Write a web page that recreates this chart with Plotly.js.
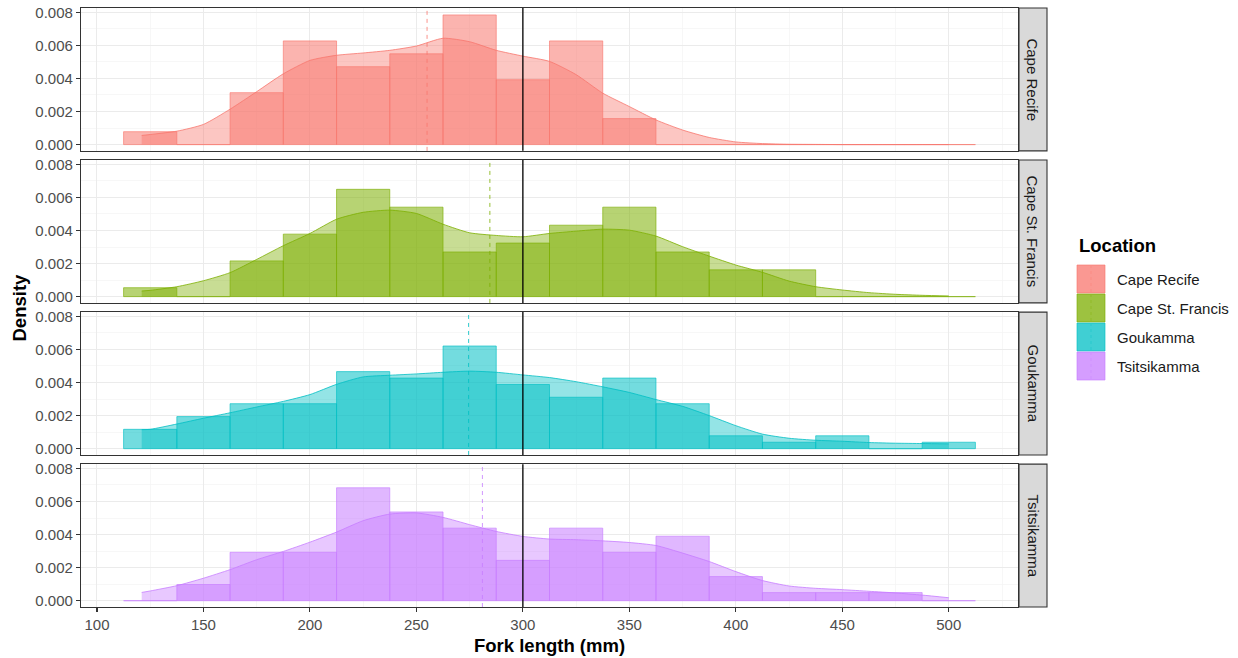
<!DOCTYPE html>
<html>
<head>
<meta charset="utf-8">
<script src="https://cdn.plot.ly/plotly-3.0.1.min.js"></script>
<style>
  html, body { margin: 0; padding: 0; background: #ffffff; }
  #chart { width: 1238px; height: 658px; }
</style>
</head>
<body>
<div id="chart"></div>
<script>
// Fork-length distributions by sampling location: histogram (density scale,
// 25 mm bins) with a kernel density overlay, mean (dashed) and 300 mm reference.
const locations = ['Cape Recife', 'Cape St. Francis', 'Goukamma', 'Tsitsikamma'];
const colours = ['#F8766D', '#7CAE00', '#00BFC4', '#C77CFF'];

// Histogram bin centres (mm)
const binCentres = [125, 150, 175, 200, 225, 250, 275, 300, 325, 350, 375, 400, 425, 450, 475, 500];
const binWidth = 25;

// Histogram densities per location
const histCapeRecife     = [0.00078, 0, 0.00314, 0.00627, 0.00471, 0.00549, 0.00784, 0.00392, 0.00627, 0.00157, 0, 0, 0, 0, 0, 0];
const histCapeStFrancis  = [0.00054, 0, 0.00216, 0.00378, 0.00649, 0.00541, 0.00270, 0.00324, 0.00432, 0.00541, 0.00270, 0.00162, 0.00162, 0, 0, 0];
const histGoukamma       = [0.00117, 0.00194, 0.00272, 0.00272, 0.00466, 0.00427, 0.00621, 0.00388, 0.00311, 0.00427, 0.00272, 0.00078, 0.00039, 0.00078, 0, 0.00039];
const histTsitsikamma    = [0, 0.00098, 0.00293, 0.00293, 0.00683, 0.00537, 0.00439, 0.00244, 0.00439, 0.00293, 0.00390, 0.00146, 0.00049, 0.00049, 0.00049, 0];

// Kernel density estimates
const densityX = [121, 125, 137.5, 150, 162.5, 175, 187.5, 200, 212.5, 225, 237.5, 250, 262.5, 275, 287.5, 300,
                  312.5, 325, 337.5, 350, 362.5, 375, 387.5, 400, 412.5, 425, 437.5, 450, 462.5, 475, 487.5, 500];
const densCapeRecife    = [0.00055, 0.00061, 0.00081, 0.00122, 0.00214, 0.00320, 0.00428, 0.00509, 0.00540, 0.00554, 0.00570, 0.00596, 0.00643, 0.00622, 0.00570, 0.00535,
                           0.00503, 0.00423, 0.00311, 0.00230, 0.00149, 0.00088, 0.00043, 0.00016, 0.00006, 0.00002, 0.00001, 0, 0, 0, 0, 0];
const densCapeStFrancis = [0.00034, 0.00038, 0.00060, 0.00096, 0.00145, 0.00225, 0.00308, 0.00382, 0.00468, 0.00510, 0.00523, 0.00503, 0.00438, 0.00386, 0.00370, 0.00362,
                           0.00382, 0.00396, 0.00408, 0.00402, 0.00366, 0.00302, 0.00245, 0.00191, 0.00147, 0.00094, 0.00060, 0.00040, 0.00024, 0.00014, 0.00008, 0.00004];
const densGoukamma      = [0.00115, 0.00117, 0.00149, 0.00184, 0.00217, 0.00252, 0.00286, 0.00327, 0.00389, 0.00434, 0.00444, 0.00452, 0.00462, 0.00469, 0.00462, 0.00446,
                           0.00430, 0.00405, 0.00374, 0.00340, 0.00297, 0.00256, 0.00200, 0.00139, 0.00088, 0.00063, 0.00051, 0.00045, 0.00037, 0.00033, 0.00031, 0.00029];
const densTsitsikamma   = [0.00050, 0.00059, 0.00091, 0.00136, 0.00188, 0.00248, 0.00298, 0.00354, 0.00415, 0.00484, 0.00524, 0.00531, 0.00504, 0.00460, 0.00419, 0.00389,
                           0.00373, 0.00369, 0.00362, 0.00352, 0.00334, 0.00288, 0.00237, 0.00176, 0.00122, 0.00089, 0.00075, 0.00067, 0.00057, 0.00047, 0.00034, 0.00018];

// Mean fork length per location and the reference length (mm)
const meanLength = [255, 284.5, 274.5, 281];
const referenceLength = 300;

const histByLocation = [histCapeRecife, histCapeStFrancis, histGoukamma, histTsitsikamma];
const densByLocation = [densCapeRecife, densCapeStFrancis, densGoukamma, densTsitsikamma];

// ---- geometry helpers (page pixels -> paper fractions) ----
const W = 1238, H = 658;
const M = { l: 81, r: 220, t: 8, b: 51 };
const plotW = W - M.l - M.r, plotH = H - M.t - M.b;
const px = x => (x - M.l) / plotW;
const py = y => (H - M.b - y) / plotH;

const panelH = 0.2385, panelGap = (1 - 4 * panelH) / 3;
const domains = [0, 1, 2, 3].map(i => {
  const top = 1 - i * (panelH + panelGap);
  return [top - panelH, top];
});

function rgba(hex, a) {
  const n = parseInt(hex.slice(1), 16);
  return `rgba(${(n >> 16) & 255},${(n >> 8) & 255},${n & 255},${a})`;
}

const FONT = 'Liberation Sans, Arial, Helvetica, sans-serif';
const traces = [];
const shapes = [];
const annotations = [];
const layout = {
  width: W, height: H,
  margin: M,
  paper_bgcolor: '#ffffff',
  plot_bgcolor: '#ffffff',
  showlegend: false,
  barmode: 'overlay',
  hovermode: false,
  font: { family: FONT, size: 15, color: '#4D4D4D' }
};

locations.forEach((loc, i) => {
  const k = i + 1;
  const xa = k === 1 ? 'x' : 'x' + k;
  const ya = k === 1 ? 'y' : 'y' + k;
  const col = colours[i];

  traces.push({
    type: 'bar', x: binCentres, y: histByLocation[i], width: binWidth,
    xaxis: xa, yaxis: ya,
    marker: { color: rgba(col, 0.55), line: { color: rgba(col, 0.9), width: 0.7 } },
    name: loc
  });
  traces.push({
    type: 'scatter', mode: 'lines', x: densityX, y: densByLocation[i],
    xaxis: xa, yaxis: ya, fill: 'tozeroy', fillcolor: rgba(col, 0.42),
    line: { color: col, width: 0.8, shape: 'spline', smoothing: 0.6 },
    name: loc
  });

  const bottom = k === 4;
  layout['xaxis' + (k === 1 ? '' : k)] = {
    domain: [0, 1], anchor: ya, range: [92.5, 532.5],
    tick0: 100, dtick: 50,
    showgrid: true, gridcolor: '#EBEBEB', gridwidth: 1,
    minor: { tick0: 75, dtick: 50, showgrid: true, gridcolor: '#F4F4F4', gridwidth: 0.7 },
    zeroline: false,
    showline: true, linecolor: '#333333', linewidth: 1.1, mirror: true,
    ticks: bottom ? 'outside' : '', ticklen: 4, tickwidth: 1.1, tickcolor: '#333333',
    showticklabels: bottom,
    tickfont: { family: FONT, size: 15, color: '#4D4D4D' }
  };
  layout['yaxis' + (k === 1 ? '' : k)] = {
    domain: domains[i], anchor: xa, range: [-0.00038, 0.00826],
    tick0: 0, dtick: 0.002, tickformat: '.3f',
    showgrid: true, gridcolor: '#EBEBEB', gridwidth: 1,
    minor: { tick0: 0.001, dtick: 0.002, showgrid: true, gridcolor: '#F4F4F4', gridwidth: 0.7 },
    zeroline: false,
    showline: true, linecolor: '#333333', linewidth: 1.1, mirror: true,
    ticks: 'outside', ticklen: 4, tickwidth: 1.1, tickcolor: '#333333',
    tickfont: { family: FONT, size: 15, color: '#4D4D4D' }
  };

  // mean (dashed) and reference (solid) lines
  shapes.push({
    type: 'line', xref: xa, yref: ya + ' domain', x0: meanLength[i], x1: meanLength[i], y0: 0, y1: 1,
    line: { color: col, width: 0.8, dash: '4px,4px' }, layer: 'above'
  });
  shapes.push({
    type: 'line', xref: xa, yref: ya + ' domain', x0: referenceLength, x1: referenceLength, y0: 0, y1: 1,
    line: { color: '#000000', width: 1.3 }, layer: 'above'
  });

  // facet strip on the right
  shapes.push({
    type: 'rect', xref: 'paper', yref: 'paper',
    x0: px(1019), x1: px(1047), y0: domains[i][0], y1: domains[i][1],
    fillcolor: '#D9D9D9', line: { color: '#333333', width: 1.1 }, layer: 'above'
  });
  annotations.push({
    xref: 'paper', yref: 'paper', x: px(1033), y: (domains[i][0] + domains[i][1]) / 2,
    xanchor: 'center', yanchor: 'middle',
    text: loc, showarrow: false, textangle: 90,
    font: { family: FONT, size: 15, color: '#1A1A1A' }
  });

  // legend key
  const keyTop = 265 + i * 29;
  shapes.push({
    type: 'rect', xref: 'paper', yref: 'paper',
    x0: px(1077), x1: px(1105), y0: py(keyTop + 28), y1: py(keyTop),
    fillcolor: rgba(col, 0.75), line: { color: rgba(col, 0.9), width: 0.7 }
  });
  shapes.push({
    type: 'line', xref: 'paper', yref: 'paper',
    x0: px(1091), x1: px(1091), y0: py(keyTop + 27), y1: py(keyTop + 1),
    line: { color: rgba(col, 0.6), width: 0.6, dash: '3px,3px' }
  });
  annotations.push({
    xref: 'paper', yref: 'paper', x: px(1115), y: py(keyTop + 14),
    xanchor: 'left', yanchor: 'middle', text: loc, showarrow: false,
    font: { family: FONT, size: 15, color: '#1A1A1A' }
  });
});

// legend title and axis titles
annotations.push({
  xref: 'paper', yref: 'paper', x: px(1077), y: py(246), xanchor: 'left', yanchor: 'middle',
  text: '<b>Location</b>', showarrow: false, font: { family: FONT, size: 18.5, color: '#000000' }
});
annotations.push({
  xref: 'paper', yref: 'paper', x: 0.5, y: py(645), xanchor: 'center', yanchor: 'middle',
  text: '<b>Fork length (mm)</b>', showarrow: false, font: { family: FONT, size: 18.5, color: '#000000' }
});
annotations.push({
  xref: 'paper', yref: 'paper', x: px(19), y: 0.5, xanchor: 'center', yanchor: 'middle',
  text: '<b>Density</b>', showarrow: false, textangle: -90, font: { family: FONT, size: 18.5, color: '#000000' }
});

layout.shapes = shapes;
layout.annotations = annotations;

Plotly.newPlot('chart', traces, layout, { displayModeBar: false, staticPlot: true });
</script>
</body>
</html>
